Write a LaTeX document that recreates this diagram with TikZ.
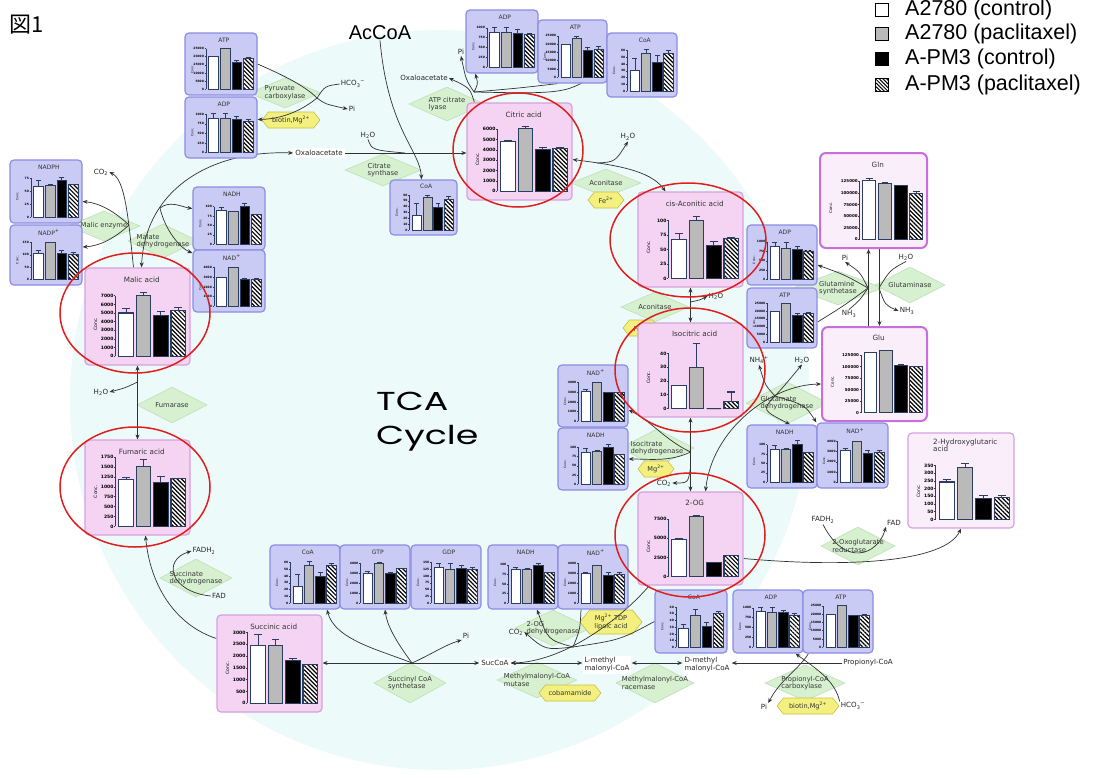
\documentclass[tikz,border=0pt]{standalone}
\usepackage{fontspec}
\setmainfont{DejaVu Sans}
\newfontfamily\arial{Liberation Sans}
\newfontfamily\cjk{Noto Sans CJK JP}
\newfontfamily\tcafont[FakeStretch=1.4]{Poppins}
\usetikzlibrary{arrows.meta,shapes.geometric,patterns.meta,calc}
\pgfdeclarelayer{back}\pgfdeclarelayer{bg}\pgfdeclarelayer{lines}
\pgfsetlayers{back,bg,lines,main}
\definecolor{bgcyan}{RGB}{237,250,250}
\definecolor{bluefill}{RGB}{202,203,245}
\definecolor{blueedge}{RGB}{140,140,228}
\definecolor{pinkfill}{RGB}{244,212,242}
\definecolor{pinkedge}{RGB}{214,160,222}
\definecolor{lightfill}{RGB}{251,238,251}
\definecolor{purpleedge}{RGB}{200,110,220}
\definecolor{enzfill}{RGB}{214,240,208}
\definecolor{enzedge}{RGB}{190,225,182}
\definecolor{hexfill}{RGB}{244,240,128}
\definecolor{hexedge}{RGB}{200,190,70}
\definecolor{barline}{RGB}{44,62,96}
\definecolor{bargrey}{RGB}{186,186,186}
\definecolor{ringred}{RGB}{224,30,30}
\definecolor{linegray}{RGB}{50,50,50}
\def\axfrac{0.29}\def\topfrac{0.25}\def\titlefrac{0.12}
% chart box: name, x0, y0, x1, y1, style, title, title size, tick size
\newcommand\chartbox[9]{%
  \pgfmathsetmacro\cxb{#4}%
  \pgfmathsetmacro\cw{#4-#2}%
  \pgfmathsetmacro\ch{#5-#3}%
  \pgfmathsetmacro\caxis{#2+\axfrac*\cw}%
  \pgfmathsetmacro\cpt{#3+\topfrac*\ch}%
  \pgfmathsetmacro\cpb{#5-0.09*\ch}%
  \def\fsB{#9}%
  \pgfmathsetmacro\blw{#9/4.2}%
  \node[#6, minimum width=\cw, minimum height=\ch, inner sep=0] (#1) at ({(#2+#4)/2},{(#3+#5)/2}) {};
  \node[font=\fontsize{#8}{#8}\selectfont, align=left, inner sep=0, text=black!80] (#1-t) at ({(#2+#4)/2+0.04*\cw},{#3+\titlefrac*\ch}) {#7};
  \node[font=\fontsize{#9}{#9}\selectfont, rotate=90, inner sep=0] (#1-c) at ({#2+0.1*\cw},{(\cpt+\cpb)/2}) {Conc.};
}
% ticks: value at plot top, axis top value, list of value/label
\newcommand\cticks[3]{%
  \def\cmax{#1}%
  \pgfmathsetmacro\axtop{\cpb-(\cpb-\cpt)*(#2/#1)}%
  \draw[barline, line width=\blw*0.6] (\caxis,\axtop) -- (\caxis,\cpb);
  \foreach \t/\l in {#3}{%
    \pgfmathsetmacro\ty{\cpb-(\cpb-\cpt)*(\t/\cmax)}%
    \draw[barline, line width=\blw*0.6] (\caxis-1.3,\ty) -- (\caxis,\ty);
    \node[font=\fontsize{\fsB}{\fsB}\selectfont\bfseries, anchor=east, inner sep=0.5] at (\caxis-1.3,\ty) {\l};
  }}
% bars: list of value/error
\newcommand\cbars[1]{%
  \pgfmathsetmacro\slot{(\cxb-\caxis-5)/4}%
  \foreach \va/\ve [count=\n] in {#1}{%
    \pgfmathsetmacro\bl{\caxis+2+(\n-1)*\slot+0.08*\slot}%
    \pgfmathsetmacro\br{\bl+0.84*\slot}%
    \pgfmathsetmacro\bt{\cpb-(\cpb-\cpt)*(\va/\cmax)}%
    \pgfmathsetmacro\et{\cpb-(\cpb-\cpt)*(\ve/\cmax)}%
    \pgfmathsetmacro\bm{(\bl+\br)/2}%
    \pgfmathsetmacro\capw{0.22*\slot}%
    \draw[barline, line width=\blw] (\bm,\bt) -- (\bm,\et) (\bm-\capw,\et) -- (\bm+\capw,\et);
    \ifcase\n\or
      \draw[barline, fill=white, line width=\blw] (\bl,\cpb) rectangle (\br,\bt);\or
      \draw[barline, fill=bargrey, line width=\blw] (\bl,\cpb) rectangle (\br,\bt);\or
      \draw[barline, fill=black, line width=\blw] (\bl,\cpb) rectangle (\br,\bt);\or
      \draw[barline, line width=\blw, preaction={fill=white}, pattern={Lines[angle=-45,distance=3pt,line width=1.2pt]}, pattern color=black] (\bl,\cpb) rectangle (\br,\bt);\fi
  }}
% enzyme diamond: name, x, y, w, h, text
\newcommand\enz[6]{%
  \begin{pgfonlayer}{bg}
  \node[enzyme, minimum width=#4, minimum height=#5] (#1) at (#2,#3) {};
  \node[enztext] (#1-t) at (#2,#3) {#6};
  \end{pgfonlayer}}
% cofactor hexagon: name, x, y, w, h, text
\newcommand\hexa[6]{%
  \begin{pgfonlayer}{bg}
  \filldraw[hexstyle] ({#2-#4/2},#3) -- ({#2-#4/2+0.4*#5},{#3-#5/2}) -- ({#2+#4/2-0.4*#5},{#3-#5/2}) -- ({#2+#4/2},#3) -- ({#2+#4/2-0.4*#5},{#3+#5/2}) -- ({#2-#4/2+0.4*#5},{#3+#5/2}) -- cycle;
  \node[hextext] (#1) at (#2,#3) {#6};
  \end{pgfonlayer}}
\begin{document}
\begin{tikzpicture}[x=1pt,y=-1pt,
  lab/.style={font=\fontsize{7.1}{8}\selectfont, text=black!85, inner sep=1pt},
  labw/.style={lab, fill=white, inner sep=2pt},
  enzyme/.style={shape=diamond, fill=enzfill, draw=enzedge, line width=0.6, inner sep=0pt},
  enztext/.style={font=\fontsize{6.8}{7.6}\selectfont, text=black!78, align=left, inner sep=0},
  hexstyle/.style={fill=hexfill, draw=hexedge, line width=0.6},
  hextext/.style={font=\fontsize{6.6}{7.4}\selectfont, align=center, inner sep=0, text=black!80},
  bluebox/.style={draw=blueedge, fill=bluefill, line width=1.2, rounded corners=4pt},
  pinkbox/.style={draw=pinkedge, fill=pinkfill, line width=1.2, rounded corners=4pt},
  lightbox/.style={draw=purpleedge, fill=lightfill, line width=2, rounded corners=6pt},
  hgbox/.style={draw=pinkedge, fill=lightfill, line width=1.2, rounded corners=4pt},
  ring/.style={shape=ellipse, draw=ringred, line width=1.5, inner sep=0},
  arr/.style={draw=linegray, line width=0.7, -{Stealth[length=5pt,width=4pt]}},
  arrb/.style={draw=linegray, line width=0.7, {Stealth[length=5pt,width=4pt]}-{Stealth[length=5pt,width=4pt]}},
  ln/.style={draw=linegray, line width=0.7},
  legsq/.style={draw=black, line width=0.9, minimum size=13, inner sep=0},
  legtxt/.style={anchor=west, font=\arial\fontsize{21.5}{22}\selectfont, inner sep=0}]
\useasboundingbox (0,0) rectangle (1093,777);
\begin{pgfonlayer}{back}
\fill[white] (0,0) rectangle (1093,777);
\fill[bgcyan] (440,400) circle [radius=370];
\end{pgfonlayer}

% ---------- titles ----------
\node[font=\cjk\fontsize{22}{23}\selectfont, inner sep=0] (fig) at (27,25) {図1};
\node[font=\arial\fontsize{20}{20}\selectfont, inner sep=0] (accoa) at (380,33) {AcCoA};
\node[font=\tcafont\fontsize{26}{34}\selectfont, align=left, anchor=north west, inner sep=0] (tca) at (376,392) {TCA\\Cycle};

% ---------- legend ----------
\node[legsq, fill=white] (sq1) at (882,10) {};
\node[legsq, fill=bargrey] (sq2) at (882,34) {};
\node[legsq, fill=black] (sq3) at (882,59) {};
\node[legsq, preaction={fill=white}, pattern={Lines[angle=-45,distance=2.6pt,line width=1pt]}, pattern color=black] (sq4) at (882,85) {};
\node[legtxt] (lt1) at (905,10) {A2780 (control)};
\node[legtxt] (lt2) at (905,34) {A2780 (paclitaxel)};
\node[legtxt] (lt3) at (905,59) {A-PM3 (control)};
\node[legtxt] (lt4) at (905,85) {A-PM3 (paclitaxel)};

% ---------- enzymes ----------
\enz{pyrc}{285}{93}{72}{30}{Pyruvate\\carboxylase}
\enz{citsyn}{383}{170}{76}{32}{Citrate\\synthase}
\enz{atpcl}{447}{104}{76}{34}{ATP citrate\\lyase}
\enz{acon1}{606}{183}{70}{28}{Aconitase}
\enz{acon2}{655}{307}{68}{30}{Aconitase}
\enz{glnsyn}{838}{288}{90}{34}{Glutamine\\synthetase}
\enz{glnase}{910}{285}{70}{36}{Glutaminase}
\enz{gludh}{787}{403}{82}{42}{Glutamate\\dehydrogenase}
\enz{icdh}{657}{448}{74}{38}{Isocitrate\\dehydrogenase}
\enz{ogr}{858}{546}{74}{38}{2-Oxoglutarate\\reductase}
\enz{ogdh}{553}{628}{76}{36}{2-OG\\dehydrogenase}
\enz{sucsyn}{410}{683}{72}{40}{Succinyl CoA\\synthetase}
\enz{mmm}{537}{680}{80}{36}{Methylmalonyl-CoA\\mutase}
\enz{mmr}{655}{683}{78}{40}{Methylmalonyl-CoA\\racemase}
\enz{pcc}{805}{683}{80}{36}{Propionyl-CoA\\carboxylase}
\enz{sdh}{196}{578}{72}{38}{Succinate\\dehydrogenase}
\enz{fum}{172}{405}{70}{36}{Fumarase}
\enz{menz}{104}{226}{72}{30}{Malic enzyme}
\enz{mdh}{163}{241}{70}{34}{Malate\\dehydrogenase}

\hexa{hpc}{291}{120}{58}{16}{biotin,Mg\textsuperscript{2+}}
\hexa{fe1}{606}{200}{36}{16}{Fe\textsuperscript{2+}}
\hexa{fe2}{641}{328}{36}{16}{Fe\textsuperscript{2+}}
\hexa{mg1}{656}{469}{36}{16}{Mg\textsuperscript{2+}}
\hexa{mgtdp}{611}{622}{62}{24}{Mg\textsuperscript{2+},TDP\\lipoic acid}
\hexa{cobam}{570}{693}{62}{16}{cobamamide}
\hexa{hpcc}{808}{706}{62}{16}{biotin,Mg\textsuperscript{2+}}

% ---------- small metabolite labels ----------
\node[lab] (hco3a) at (353,84) {HCO\textsubscript{3}\textsuperscript{−}};
\node[lab] (pia) at (352,109) {Pi};
\node[labw] (oxa1) at (319,153) {Oxaloacetate};
\node[lab] (h2oa1) at (368,135) {H\textsubscript{2}O};
\node[lab] (oxa2) at (424,78) {Oxaloacetate};
\node[lab] (pia2) at (461,52) {Pi};
\node[lab] (h2oa) at (628,137) {H\textsubscript{2}O};
\node[lab] (h2ob) at (716,296) {H\textsubscript{2}O};
\node[lab] (pic) at (845,258) {Pi};
\node[lab] (h2oe) at (906,257) {H\textsubscript{2}O};
\node[lab] (nh3a) at (849,314) {NH\textsubscript{3}};
\node[lab] (nh3b) at (907,311) {NH\textsubscript{3}};
\node[lab] (nh4) at (759,360) {NH\textsubscript{4}\textsuperscript{+}};
\node[lab] (h2od) at (802,360) {H\textsubscript{2}O};
\node[lab] (co2i) at (664,483) {CO\textsubscript{2}};
\node[lab] (fadh2b) at (823,520) {FADH\textsubscript{2}};
\node[lab] (fadb) at (894,523) {FAD};
\node[lab] (co2b) at (516,632) {CO\textsubscript{2}};
\node[labw] (succoa) at (495,663) {SucCoA};
\node[lab] (pib) at (466,636) {Pi};
\node[labw, align=left] (lmm) at (607,665) {L-methyl\\malonyl-CoA};
\node[labw, align=left] (dmm) at (707,665) {D-methyl\\malonyl-CoA};
\node[lab] (prop) at (868,663) {Propionyl-CoA};
\node[lab] (pid) at (764,707) {Pi};
\node[lab] (hco3b) at (853,706) {HCO\textsubscript{3}\textsuperscript{−}};
\node[lab] (fadh2a) at (204,551) {FADH\textsubscript{2}};
\node[lab] (fada) at (219,596) {FAD};
\node[lab] (h2oc) at (101,392) {H\textsubscript{2}O};
\node[lab] (co2a) at (101,172) {CO\textsubscript{2}};

% ---------- blue charts ----------
\chartbox{atpA}{185}{33}{257}{95}{bluebox}{ATP}{6}{3}
\cticks{25}{25}{0/0,5/5000,10/10000,15/15000,20/20000,25/25000}
\cbars{20/20,24.8/24.8,16.5/18,19/19.5}
\chartbox{adpA}{185}{97}{257}{158}{bluebox}{ADP}{6}{3}
\cticks{1050}{1000}{0,250,500,750,1000}
\cbars{880/1010,880/1010,870/950,820/870}
\chartbox{nadph}{10}{160}{82}{223}{bluebox}{NADPH}{6}{3}
\cticks{80}{75}{0,25,50,75}
\cbars{60/71,61/64,72/77,63/63}
\chartbox{nadp}{10}{225}{82}{285}{bluebox}{NADP\textsuperscript{+}}{6}{3}
\cticks{160}{150}{0,50,100,150}
\cbars{105/118,150/150,105/120,100/112}
\chartbox{nadhL}{193}{187}{265}{250}{bluebox}{NADH}{6}{3}
\cticks{110}{100}{0,25,50,75,100}
\cbars{90/97,88/88,100/108,78/78}
\chartbox{nadL}{193}{250}{265}{312}{bluebox}{NAD\textsuperscript{+}}{6}{3}
\cticks{4200}{4000}{0,1000,2000,3000,4000}
\cbars{3000/3000,4000/4000,2800/2900,2800/2900}
\chartbox{coaC}{390}{180}{457}{235}{bluebox}{CoA}{6}{3}
\cticks{62}{60}{0,10,20,30,40,50,60}
\cbars{25/45,56/60,38/46,53/57}
\chartbox{adpT}{466}{10}{538}{73}{bluebox}{ADP}{6}{3}
\cticks{1050}{1000}{0,250,500,750,1000}
\cbars{880/1020,880/1000,870/950,830/870}
\chartbox{atpT}{538}{20}{607}{83}{bluebox}{ATP}{6}{3}
\cticks{25}{25}{0/0,5/5000,10/10000,15/15000,20/20000,25/25000}
\cbars{20/20,23.5/24.5,16.5/18,17/18.5}
\chartbox{coaT}{607}{33}{677}{97}{bluebox}{CoA}{6}{3}
\cticks{62}{60}{0,10,20,30,40,50,60}
\cbars{30/48,55/62,42/53,55/60}
\chartbox{adpR}{747}{225}{817}{285}{bluebox}{ADP}{6}{3}
\cticks{1050}{1000}{0,250,500,750,1000}
\cbars{880/1000,820/980,800/880,760/760}
\chartbox{atpR}{747}{288}{817}{348}{bluebox}{ATP}{6}{3}
\cticks{25}{25}{0/0,5/5000,10/10000,15/15000,20/20000,25/25000}
\cbars{20/20,24.5/25,17/18.5,18.5/19.2}
\chartbox{nadI}{558}{365}{628}{427}{bluebox}{NAD\textsuperscript{+}}{6}{3}
\cticks{4200}{4000}{0,1000,2000,3000,4000}
\cbars{3100/3250,4000/4000,3000/3000,3000/3000}
\chartbox{nadhI}{558}{428}{628}{490}{bluebox}{NADH}{6}{3}
\cticks{110}{100}{0,25,50,75,100}
\cbars{85/97,88/91,100/108,80/80}
\chartbox{nadhG}{747}{425}{817}{488}{bluebox}{NADH}{6}{3}
\cticks{110}{100}{0,25,50,75,100}
\cbars{88/97,88/91,100/110,80/80}
\chartbox{nadG}{817}{423}{888}{488}{bluebox}{NAD\textsuperscript{+}}{6}{3}
\cticks{4200}{4000}{0,1000,2000,3000,4000}
\cbars{3100/3300,4000/4000,2800/3100,2900/3100}
\chartbox{coaB}{270}{545}{340}{609}{bluebox}{CoA}{6}{3}
\cticks{62}{60}{0,10,20,30,40,50,60}
\cbars{25/42,55/62,40/46,55/58}
\chartbox{gtp}{340}{545}{410}{609}{bluebox}{GTP}{6}{3}
\cticks{4200}{4000}{0,1000,2000,3000,4000}
\cbars{3000/3150,4000/4100,3000/3100,3500/3500}
\chartbox{gdp}{411}{545}{481}{609}{bluebox}{GDP}{6}{3}
\cticks{155}{150}{0,25,50,75,100,125,150}
\cbars{130/145,125/145,128/140,125/130}
\chartbox{nadhB}{488}{545}{558}{609}{bluebox}{NADH}{6}{3}
\cticks{110}{100}{0,25,50,75,100}
\cbars{88/94,87/90,98/104,80/80}
\chartbox{nadB}{558}{545}{628}{609}{bluebox}{NAD\textsuperscript{+}}{6}{3}
\cticks{4200}{4000}{0,1000,2000,3000,4000}
\cbars{3000/3100,3800/3800,2800/3100,2900/3100}
\chartbox{coaR}{655}{590}{727}{653}{bluebox}{CoA}{6}{3}
\cticks{62}{60}{0,10,20,30,40,50,60}
\cbars{28/34,48/56,31/37,50/53}
\chartbox{adpB}{733}{590}{803}{653}{bluebox}{ADP}{6}{3}
\cticks{1050}{1000}{0,250,500,750,1000}
\cbars{900/1020,880/1000,880/930,800/850}
\chartbox{atpB}{803}{590}{873}{653}{bluebox}{ATP}{6}{3}
\cticks{25}{25}{0/0,5/5000,10/10000,15/15000,20/20000,25/25000}
\cbars{20/20,25/25.5,19/19.5,19/19.8}

% ---------- pink charts ----------
\chartbox{citric}{467}{103}{572}{200}{pinkbox}{Citric acid}{7.2}{4.5}
\cticks{6200}{6000}{0,1000,2000,3000,4000,5000,6000}
\cbars{4800/4950,6100/6250,4050/4200,4150/4250}
\chartbox{cis}{638}{192}{743}{287}{pinkbox}{cis-Aconitic acid}{7.2}{4.5}
\cticks{108}{100}{0,25,50,75,100}
\cbars{67/78,100/107,57/63,69/70}
\chartbox{iso}{638}{323}{743}{417}{pinkbox}{Isocitric acid}{7.2}{4.5}
\cticks{45}{40}{0,10,20,30,40}
\cbars{17/17,30/47,0/0,5/12}
\chartbox{ogg}{638}{492}{743}{585}{pinkbox}{2-OG}{7.2}{4.5}
\cticks{8000}{7500}{0,2500,5000,7500}
\cbars{4900/5000,7800/8000,1800/1900,2700/2750}
\chartbox{malic}{85}{268}{190}{365}{pinkbox}{Malic acid}{7.2}{4.5}
\cticks{7400}{7000}{0,1000,2000,3000,4000,5000,6000,7000}
\cbars{5000/5500,7000/7350,4700/5200,5300/5600}
\def\topfrac{0.18}
\chartbox{fumaric}{85}{440}{190}{535}{pinkbox}{Fumaric acid}{7.2}{4.5}
\cticks{1750}{1750}{0,250,500,750,1000,1250,1500,1750}
\cbars{1180/1240,1520/1680,1120/1250,1200/1200}
\chartbox{succinic}{217}{615}{322}{712}{pinkbox}{Succinic acid}{7.2}{4.5}
\cticks{3000}{3000}{0,500,1000,1500,2000,2500,3000}
\cbars{2450/2900,2450/2700,1800/1900,1650/1650}
\def\topfrac{0.25}
\def\axfrac{0.37}
\chartbox{gln}{820}{153}{927}{248}{lightbox}{Gln}{7.2}{4}
\cticks{135}{125}{0/0,25/25000,50/50000,75/75000,100/100000,125/125000}
\cbars{128/132,120/123,116/117,98/104}
\chartbox{glu}{822}{327}{927}{421}{lightbox}{Glu}{7.2}{4}
\cticks{135}{125}{0/0,25/25000,50/50000,75/75000,100/100000,125/125000}
\cbars{130/131,135/136,103/104,100/101}
\def\axfrac{0.26}\def\topfrac{0.31}\def\titlefrac{0.13}
\chartbox{hg}{908}{433}{1014}{528}{hgbox}{2-Hydroxyglutaric\\acid}{7.2}{4.5}
\cticks{370}{350}{0,50,100,150,200,250,300,350}
\cbars{243/262,338/365,138/155,145/155}
\def\axfrac{0.29}\def\topfrac{0.25}\def\titlefrac{0.12}

% ---------- connectors ----------
\begin{pgfonlayer}{lines}
% pyruvate carboxylase
\coordinate (pc) at (317,98);
\draw[ln] (atpA.east) .. controls (285,76) and (305,86) .. (pc);
\draw[ln] (hco3a.west) .. controls (325,86) .. (pc);
\draw[arr] (pc) .. controls (325,104) .. (pia.west);
\draw[arr] (pc) .. controls (300,112) and (280,119) .. ([yshift=8]adpA.east);
% malate dehydrogenase / malic enzyme
\draw[arrb] ([xshift=4]malic.north) .. controls (145,190) and (210,150) .. (oxa1.west);
\draw[arr] ([xshift=-4]malic.north) .. controls (128,215) and (125,180) .. (co2a.east);
\coordinate (me) at (129,225);
\coordinate (md) at (160,208);
\draw[arr] (me) .. controls (115,212) and (100,203) .. ([yshift=-10]nadph.east);
\draw[arr] (me) .. controls (115,238) and (100,246) .. ([yshift=8]nadp.east);
\draw[arr] (md) .. controls (170,200) and (182,207) .. ([yshift=10]nadhL.west);
\draw[arr] (md) .. controls (165,230) and (180,248) .. ([yshift=28]nadL.west);
% fumarase
\draw[arrb] (malic.south) -- (fumaric.north);
\coordinate (fh) at (137.5,382);
\draw[arr] (fh) .. controls (125,388) .. (h2oc.east);
% succinate dehydrogenase
\draw[arr] ([yshift=25]succinic.west) .. controls (175,625) and (150,585) .. ([xshift=8]fumaric.south);
\draw[arr] (fada.west) .. controls (170,592) and (162,560) .. (fadh2a.west);
% succinyl CoA synthetase
\draw[arrb] (succinic.east |- succoa) -- (succoa.west);
\coordinate (ss) at (412,663);
\draw[arr] (ss) .. controls (380,650) and (335,640) .. ([xshift=22]coaB.south);
\draw[arr] (ss) .. controls (395,640) and (387,625) .. ([xshift=10]gtp.south);
\draw[arr] (ss) .. controls (430,655) and (445,645) .. (pib.south west);
% methylmalonyl chain
\draw[arrb] (succoa.east) -- (succoa.east -| lmm.west);
\draw[arrb] (lmm.east |- succoa) -- (dmm.west |- succoa);
\draw[arr] (prop.west) -- (dmm.east |- prop);
% propionyl-CoA carboxylase
\draw[arr] (hco3b.north west) .. controls (835,680) and (815,668) .. ([xshift=-8]adpB.south east);
\draw[arr] ([xshift=6]atpB.south west) .. controls (800,668) and (780,680) .. (pid.north east);
% 2-OG dehydrogenase
\draw[arr] ([xshift=12]ogg.south west) .. controls (615,625) and (560,662) .. (succoa.east);
\coordinate (od) at (573,647);
\draw[ln] ([xshift=-12]nadB.south) .. controls (580,630) .. (od);
\draw[arr] (od) .. controls (548,640) .. ([xshift=14]nadhB.south);
\draw[arr] (od) .. controls (545,650) .. (co2b.east);
\draw[ln] (coaR.west) .. controls (620,640) .. (od);
% 2-oxoglutarate reductase
\draw[arr] ([yshift=-20]ogg.east) .. controls (850,568) and (945,562) .. (hg.south);
\draw[arr] (fadh2b.south) .. controls (845,568) and (878,555) .. (fadb.south west);
% isocitrate dehydrogenase
\draw[arrb] (iso.south) -- (ogg.north);
\coordinate (ic) at (690.5,452);
\coordinate (ic2) at (690.5,468);
\draw[arr] (ic) .. controls (665,440) and (650,420) .. ([yshift=-14]nadI.east);
\draw[arr] (ic) .. controls (670,462) and (650,459) .. (nadhI.east);
\draw[arr] (ic2) .. controls (688,483) .. (co2i.east);
% glutamate dehydrogenase
\draw[arrb] ([yshift=-10]glu.west) .. controls (770,385) and (712,430) .. ([xshift=15]ogg.north);
\coordinate (gd) at (775,396);
\draw[arr] (gd) .. controls (765,385) .. (nh4.south);
\draw[arr] (gd) .. controls (785,385) .. (h2od.south);
\draw[arr] (gd) .. controls (762,410) .. ([xshift=8]nadhG.north);
\draw[arr] (gd) .. controls (805,405) .. (nadG.north west);
% glutamine synthetase / glutaminase
\draw[arr] ([xshift=-6]glu.north) -- ([xshift=-5]gln.south);
\draw[arr] ([xshift=6]gln.south) -- ([xshift=5]glu.north);
\coordinate (gs) at (868,288);
\coordinate (ga) at (879,288);
\draw[arr] (gs) .. controls (845,275) .. ([yshift=-10]adpR.east);
\draw[arr] (gs) .. controls (860,272) .. (pic.south);
\draw[ln] ([yshift=-4]atpR.east) .. controls (845,305) .. (gs);
\draw[ln] (nh3a.north) .. controls (860,300) .. (gs);
\draw[ln] (h2oe.south) .. controls (890,270) .. (ga);
\draw[arr] (ga) .. controls (885,305) .. (nh3b.west);
% aconitase
\draw[arrb] ([yshift=-8]citric.east) .. controls (615,165) and (650,170) .. ([xshift=-25]cis.north);
\coordinate (ac1) at (597,163);
\draw[arr] (ac1) .. controls (615,162) .. (h2oa.south);
\draw[arrb] (cis.south) -- (iso.north);
\coordinate (ac2) at (690.5,302);
\draw[arr] (ac2) .. controls (700,300) .. (h2ob.west);
% citrate synthase
\draw[arr] (oxa1.east) -- (oxa1.east -| citric.west);
\draw[arr] (accoa.south) .. controls (388,130) and (420,150) .. ([xshift=-2]coaC.north);
\coordinate (cs) at (405,153);
\draw[ln] (h2oa1.south) .. controls (372,150) .. (cs);
% ATP citrate lyase
\draw[arr] ([xshift=8]citric.north west) .. controls (470,88) .. (oxa2.east);
\coordinate (cl) at (474,92);
\draw[arr] (cl) .. controls (466,80) .. (pia2.south);
\draw[arr] (cl) .. controls (478,84) .. ([xshift=10]adpT.south west);
\draw[ln] (cl) .. controls (520,88) .. ([xshift=-15]atpT.south);
\draw[ln] (cl) .. controls (570,94) .. (coaT.west);
\end{pgfonlayer}

% ---------- red rings ----------
\node[ring, minimum width=130, minimum height=114] (r1) at (518,150) {};
\node[ring, minimum width=156, minimum height=114] (r2) at (688,240) {};
\node[ring, minimum width=150, minimum height=124] (r3) at (690,370) {};
\node[ring, minimum width=150, minimum height=124] (r4) at (690,535) {};
\node[ring, minimum width=150, minimum height=120] (r5) at (135,313) {};
\node[ring, minimum width=150, minimum height=120] (r6) at (135,487) {};
\end{tikzpicture}
\end{document}
